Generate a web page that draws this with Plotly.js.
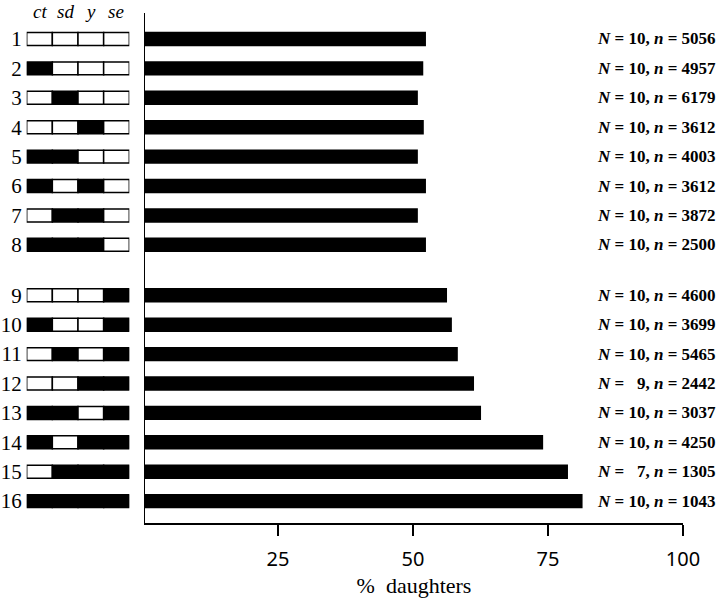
<!DOCTYPE html>
<html>
<head>
<meta charset="utf-8">
<script src="https://cdn.plot.ly/plotly-3.0.1.min.js"></script>
<style>html,body{margin:0;padding:0;background:#fff;}#chart{width:720px;height:598px;}</style>
</head>
<body>
<div id="chart"></div>
<script>
// ---- data ----
const rowLabels = ["1","2","3","4","5","6","7","8","9","10","11","12","13","14","15","16"];
const pctDaughters = [52.4, 51.9, 50.9, 52.0, 50.9, 52.4, 50.9, 52.4, 56.3, 57.2, 58.3, 61.3, 62.6, 74.1, 78.7, 81.4];
const bigN = [10, 10, 10, 10, 10, 10, 10, 10, 10, 10, 10, 9, 10, 10, 7, 10];
const smallN = [5056, 4957, 6179, 3612, 4003, 3612, 3872, 2500, 4600, 3699, 5465, 2442, 3037, 4250, 1305, 1043];
const genes = ["ct", "sd", "y", "se"];
// 1 = black (filled) segment, 0 = white segment; order ct, sd, y, se
const genotype = [
  [0,0,0,0],[1,0,0,0],[0,1,0,0],[0,0,1,0],
  [1,1,0,0],[1,0,1,0],[0,1,1,0],[1,1,1,0],
  [0,0,0,1],[1,0,0,1],[0,1,0,1],[0,0,1,1],
  [1,1,0,1],[1,0,1,1],[0,1,1,1],[1,1,1,1]
];
const xTicks = [25, 50, 75, 100];

// ---- layout helpers ----
const groupGap = 0.716;
const ypos = rowLabels.map((_, i) => i + (i >= 8 ? groupGap : 0));

const segY = [], segBase = [], segLen = [], segColor = [];
genotype.forEach((g, i) => {
  g.forEach((v, j) => {
    segY.push(ypos[i]); segBase.push(j); segLen.push(1);
    segColor.push(v ? "#000000" : "#ffffff");
  });
});

const traces = [
  {
    type: "bar", orientation: "h",
    x: pctDaughters, y: ypos,
    width: 0.49,
    marker: {color: "#000000", line: {width: 0}},
    xaxis: "x", yaxis: "y", hoverinfo: "none", showlegend: false
  },
  {
    type: "bar", orientation: "h",
    x: segLen, base: segBase, y: segY,
    width: 0.44,
    marker: {color: segColor, line: {color: "#000000", width: 1.5}},
    xaxis: "x2", yaxis: "y2", hoverinfo: "none", showlegend: false
  }
];

const fmt = (N) => (N < 10 ? "\u2007" + N : "" + N);
const annotations = rowLabels.map((_, i) => ({
  xref: "paper", yref: "y",
  x: 718 / 720, y: ypos[i],
  xanchor: "right", yanchor: "middle",
  text: "<b><i>N</i> = " + fmt(bigN[i]) + ", <i>n</i> = " + smallN[i] + "</b>",
  showarrow: false,
  font: {family: "Liberation Serif, Times New Roman, serif", size: 17, color: "#000"}
}));
genes.forEach((g, j) => {
  annotations.push({
    xref: "x2", yref: "paper",
    x: j + 0.5, y: 1,
    xanchor: "center", yanchor: "top",
    borderpad: 0,
    text: "<i>" + g + "</i>",
    showarrow: false,
    font: {family: "Liberation Serif, Times New Roman, serif", size: 19, color: "#000"}
  });
});

const yDomain = [1 - 523 / 598, 1 - 13 / 598];
const yRange = [16.46, -0.884];

const layout = {
  width: 720, height: 598,
  margin: {l: 0, r: 0, t: 0, b: 0},
  paper_bgcolor: "#ffffff", plot_bgcolor: "#ffffff",
  barmode: "overlay",
  showlegend: false,
  xaxis: {
    domain: [145 / 720, 683 / 720],
    range: [0.37, 100],
    tickvals: xTicks, ticktext: xTicks.map(String),
    ticks: "outside", ticklen: 11, tickwidth: 1.5, tickcolor: "#000",
    showline: true, linewidth: 1.5, linecolor: "#000",
    showgrid: false, zeroline: false,
    tickfont: {family: "Noto Sans, DejaVu Sans, sans-serif", size: 20, color: "#000"},
    ticklabelstandoff: 6,
    title: {text: "%\u2002daughters", standoff: 8,
      font: {family: "Liberation Serif, Times New Roman, serif", size: 22, color: "#000"}},
    anchor: "y", fixedrange: true
  },
  yaxis: {
    domain: yDomain, range: yRange,
    showline: true, linewidth: 1.5, linecolor: "#000",
    showticklabels: false, ticks: "",
    showgrid: false, zeroline: false,
    anchor: "x", fixedrange: true
  },
  xaxis2: {
    domain: [26.7 / 720, 129.3 / 720],
    range: [0, 4],
    visible: false, showgrid: false, zeroline: false,
    anchor: "y2", fixedrange: true
  },
  yaxis2: {
    domain: yDomain, range: yRange,
    tickvals: ypos, ticktext: rowLabels,
    ticks: "", showline: false, showgrid: false, zeroline: false,
    tickfont: {family: "Liberation Serif, Times New Roman, serif", size: 21, color: "#000"},
    ticklabelstandoff: 4,
    anchor: "x2", fixedrange: true
  },
  annotations: annotations
};

Plotly.newPlot("chart", traces, layout, {displayModeBar: false, staticPlot: true});
</script>
</body>
</html>
